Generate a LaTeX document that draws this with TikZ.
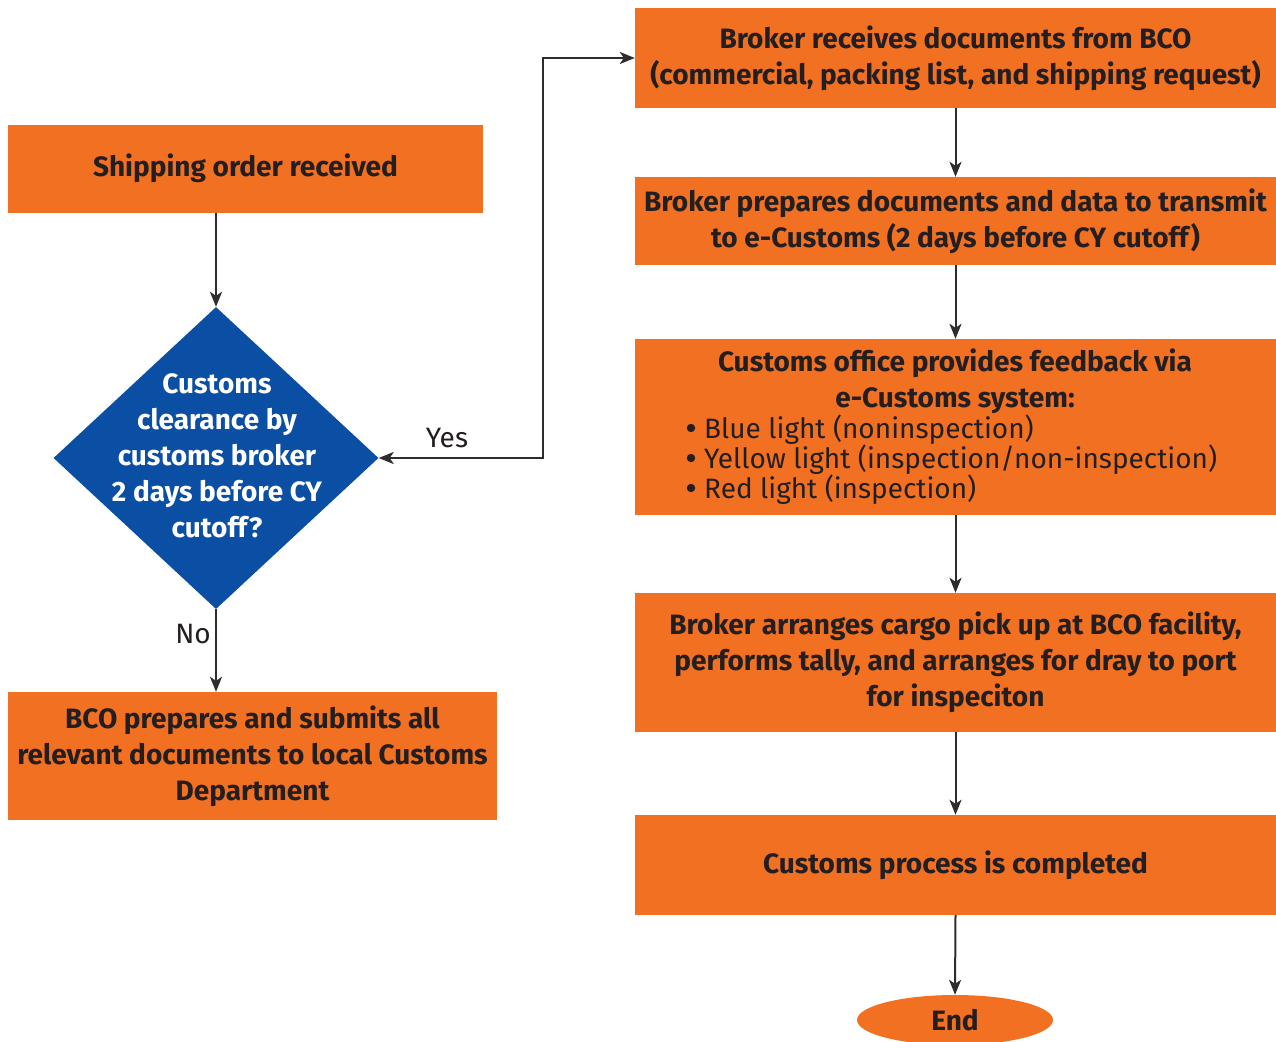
\documentclass[tikz,border=0pt]{standalone}
\usepackage{fontspec}
\setmainfont{Fira Sans}
\usetikzlibrary{shapes.geometric,arrows.meta}

\definecolor{boxorange}{RGB}{241,112,34}
\definecolor{decblue}{RGB}{10,79,163}
\definecolor{ink}{RGB}{35,31,32}
\definecolor{wire}{RGB}{45,45,45}

\newcommand\chartfont{\fontsize{28}{36}\selectfont}
\newcommand\listfont{\fontsize{28}{30}\selectfont}

\tikzset{
  stepbox/.style={rectangle, fill=boxorange, inner sep=0pt, text=ink,
    font=\chartfont\bfseries, align=center},
  decision/.style={diamond, fill=decblue, inner sep=0pt},
  decisiontext/.style={text=white, font=\chartfont\bfseries, align=center},
  terminal/.style={ellipse, fill=boxorange, inner sep=0pt, text=ink,
    font=\chartfont\bfseries},
  listitems/.style={text=ink, font=\listfont, align=left, anchor=west, inner sep=0pt},
  bulletdot/.style={fill=ink},
  flow/.style={draw=wire, line width=2pt,
    -{Stealth[length=15pt,width=12pt,inset=4pt]}},
  twoway/.style={draw=wire, line width=2pt,
    {Stealth[length=15pt,width=12pt,inset=4pt]}-{Stealth[length=15pt,width=12pt,inset=4pt]}},
  branch/.style={text=ink, font=\chartfont}
}

\begin{document}
\begin{tikzpicture}[x=1pt,y=-1pt]
  \clip (0,0) rectangle (1276,1041);
  \useasboundingbox (0,0) rectangle (1276,1041);

  % left column
  \node[stepbox, minimum width=475pt, minimum height=88pt] (ship) at (245.5,168.5)
    {Shipping order received};
  \node[decision, minimum width=325pt, minimum height=302pt] (dia) at (216,458) {};
  \node[decisiontext] (diatext) at (217,456)
    {Customs\\clearance by\\customs broker\\2 days before CY\\cutoff?};
  \node[stepbox, minimum width=489pt, minimum height=128pt] (bco) at (252.5,756)
    {BCO prepares and submits all\\relevant documents to local Customs\\Department};

  % right column
  \node[stepbox, minimum width=641pt, minimum height=100pt] (b1) at (955.5,58)
    {Broker receives documents from BCO\\(commercial, packing list, and shipping request)};
  \node[stepbox, minimum width=641pt, minimum height=88pt] (b2) at (955.5,221)
    {Broker prepares documents and data to transmit\\to e-Customs (2 days before CY cutoff)};
  \node[stepbox, minimum width=641pt, minimum height=176pt] (b3) at (955.5,427) {};
  \node[stepbox] (b3title) at (955,381)
    {Customs office provides feedback via\\e-Customs system:};
  \node[listitems] (b3list) at (704,460)
    {Blue light (noninspection)\\
     Yellow light (inspection/non-inspection)\\
     Red light (inspection)};
  \foreach \yy in {428,458,488} \fill[bulletdot] (691,\yy) circle (4.2pt);
  \node[stepbox, minimum width=641pt, minimum height=139pt] (b4) at (955.5,662.5)
    {Broker arranges cargo pick up at BCO facility,\\performs tally, and arranges for dray to port\\for inspeciton};
  \node[stepbox, minimum width=641pt, minimum height=100pt] (b5) at (955.5,865)
    {Customs process is completed};
  \node[terminal, minimum width=196pt, minimum height=50pt] (fin) at (955,1020) {End};

  % connectors
  \coordinate (turn) at (543,58);
  \draw[flow] (dia.north |- ship.south) -- (dia.north);
  \draw[flow] (dia.south) -- (dia.south |- bco.north);
  \draw[twoway] (dia.east) -| (turn) -- (b1.west);
  \draw[flow] (b1.south) -- (b2.north);
  \draw[flow] (b2.south) -- (b3.north);
  \draw[flow] (b3.south) -- (b4.north);
  \draw[flow] (b4.south) -- (b5.north);
  \draw[flow] (b5.south) -- (fin.north);

  % branch labels
  \node[branch] (yes) at (447,438) {Yes};
  \node[branch] (no) at (193,634) {No};
\end{tikzpicture}
\end{document}
